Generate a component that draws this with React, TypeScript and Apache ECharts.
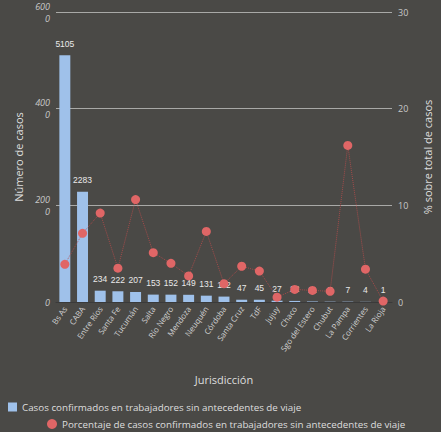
import React, { useEffect, useRef } from "react";
import * as echarts from "echarts";

const categories = ["Bs As", "CABA", "Entre Ríos", "Santa Fe", "Tucumán", "Salta", "Río Negro", "Mendoza", "Neuquén", "Córdoba", "Santa Cruz", "TdF", "Jujuy", "Chaco", "Sgo del Estero", "Chubut", "La Pampa", "Corrientes", "La Rioja"];
const casos = [5105, 2283, 234, 222, 207, 153, 152, 149, 131, 112, 47, 45, 27, 22, 11, 7, 7, 4, 1];
const porcentaje = [3.9, 7.1, 9.2, 3.5, 10.6, 5.1, 4.0, 2.7, 7.3, 1.9, 3.7, 3.2, 0.5, 1.3, 1.2, 1.1, 16.2, 3.4, 0.1];
const leftTickLabels: Record<number, string> = { 0: "0", 2000: "200\n0", 4000: "400\n0", 6000: "600\n0" };

const barName = "Casos confirmados en trabajadores sin antecedentes de viaje";
const lineName = "Porcentaje de casos confirmados en trabajadores sin antecedentes de viaje";

export default function App() {
  const ref = useRef<HTMLDivElement>(null);
  useEffect(() => {
    if (!ref.current) return;
    const chart = echarts.init(ref.current, undefined, { renderer: "svg" });
    const font = "Open Sans";
    chart.setOption({
      animation: false,
      backgroundColor: "#4a4946",
      textStyle: { fontFamily: font },
      grid: { left: 56, right: 41, top: 11, bottom: 130, containLabel: false },
      legend: [
        {
          data: [barName],
          left: 6,
          top: 400,
          itemWidth: 9,
          itemHeight: 9,
          icon: "rect",
          itemGap: 6,
          padding: 2,
          textStyle: { color: "#dedede", fontSize: 9.8, fontFamily: font },
        },
        {
          data: [lineName],
          left: 45,
          top: 417,
          itemWidth: 10,
          itemHeight: 10,
          icon: "circle",
          padding: 2,
          textStyle: { color: "#dedede", fontSize: 9.8, fontFamily: font },
        },
      ],
      xAxis: {
        type: "category",
        data: categories,
        name: "Jurisdicción",
        nameLocation: "middle",
        nameGap: 72,
        nameTextStyle: { color: "#dedede", fontSize: 11 },
        axisLine: { show: true, lineStyle: { color: "#3a3a3a" } },
        axisTick: { show: false },
        axisLabel: { interval: 0, rotate: 55, fontSize: 8, color: "#cfcfcf", margin: 5 },
      },
      yAxis: [
        {
          type: "value",
          min: 0,
          max: 6000,
          interval: 2000,
          name: "Número de casos",
          nameLocation: "middle",
          nameGap: 30,
          nameTextStyle: { color: "#dedede", fontSize: 11 },
          axisLine: { show: false },
          axisTick: { show: false },
          axisLabel: {
            color: "#c8c8c8",
            fontSize: 9,
            fontStyle: "italic",
            lineHeight: 12,
            margin: 6,
            formatter: (v: number) => leftTickLabels[v] ?? String(v),
          },
          splitLine: { show: true, lineStyle: { color: "#a9a9a7", width: 1 } },
        },
        {
          type: "value",
          min: 0,
          max: 30,
          interval: 10,
          name: "% sobre total de casos",
          nameLocation: "middle",
          nameGap: 30,
          nameTextStyle: { color: "#dedede", fontSize: 11 },
          axisLine: { show: false },
          axisTick: { show: false },
          axisLabel: { color: "#c8c8c8", fontSize: 9, margin: 6 },
          splitLine: { show: false },
        },
      ],
      series: [
        {
          name: barName,
          type: "bar",
          data: casos,
          barWidth: "62%",
          itemStyle: { color: "#9fc1ea" },
          label: { show: true, position: "top", distance: 7, color: "#eaeaea", fontSize: 8.5, fontFamily: "Liberation Sans" },
        },
        {
          name: lineName,
          type: "line",
          yAxisIndex: 1,
          data: porcentaje,
          symbol: "circle",
          symbolSize: 9,
          itemStyle: { color: "#e06666" },
          lineStyle: { color: "#b84c4c", width: 1, type: "dotted", opacity: 0.8 },
        },
      ],
    });
    return () => chart.dispose();
  }, []);
  return <div ref={ref} style={{ width: 441, height: 432, position: "absolute", left: 0, top: 0 }} />;
}
